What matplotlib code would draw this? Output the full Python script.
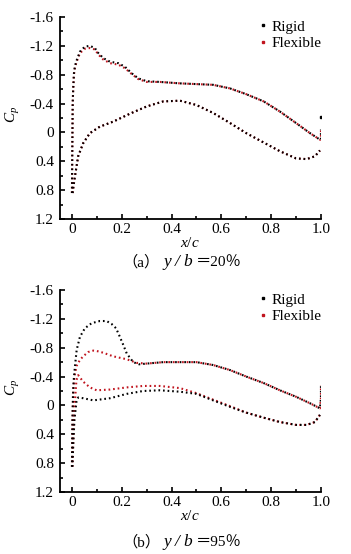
import matplotlib
matplotlib.use('Agg')
import matplotlib.pyplot as plt
from matplotlib.lines import Line2D
from matplotlib.ticker import MultipleLocator, FuncFormatter

plt.rcParams['font.family'] = ['Liberation Serif', 'Noto Sans CJK SC']
plt.rcParams['mathtext.fontset'] = 'custom'
plt.rcParams['mathtext.rm'] = 'Liberation Serif'
plt.rcParams['mathtext.it'] = 'Liberation Serif:italic'
plt.rcParams['axes.unicode_minus'] = False

# ---- (a) y/b = 20% ----
rig_a_up_x = [0.000, 0.001, 0.002, 0.003, 0.005, 0.008, 0.012, 0.019, 0.032, 0.052, 0.072, 0.092,
              0.106, 0.126, 0.153, 0.186, 0.213, 0.240, 0.266, 0.300, 0.353, 0.434, 0.500, 0.567,
              0.635, 0.700, 0.770, 0.835, 0.900, 0.956, 0.996, 1.000, 1.000]
rig_a_up_cp = [0.84, 0.40, 0.00, -0.40, -0.60, -0.82, -0.92, -1.00, -1.12, -1.19, -1.20, -1.17,
               -1.10, -1.03, -0.98, -0.96, -0.91, -0.82, -0.75, -0.71, -0.70, -0.68, -0.67, -0.66,
               -0.61, -0.53, -0.43, -0.29, -0.13, 0.01, 0.10, 0.10, -0.04]
rig_a_lo_x = [0.003, 0.006, 0.012, 0.025, 0.045, 0.072, 0.112, 0.166, 0.233, 0.300, 0.367, 0.434,
              0.500, 0.567, 0.635, 0.700, 0.770, 0.835, 0.900, 0.943, 0.976, 0.996]
rig_a_lo_cp = [0.84, 0.75, 0.61, 0.33, 0.15, 0.01, -0.08, -0.15, -0.26, -0.36, -0.43, -0.44,
               -0.38, -0.27, -0.13, 0.01, 0.14, 0.26, 0.36, 0.37, 0.33, 0.25]
rig_a_te = (1.0, -0.21)

flx_a_up_x = rig_a_up_x
flx_a_up_cp = [0.84, 0.40, 0.00, -0.40, -0.60, -0.80, -0.90, -0.98, -1.10, -1.16, -1.17, -1.15,
               -1.08, -1.01, -0.96, -0.94, -0.89, -0.81, -0.74, -0.70, -0.70, -0.68, -0.67, -0.66,
               -0.61, -0.53, -0.43, -0.29, -0.13, 0.01, 0.10, 0.10, -0.04]
flx_a_lo_x = rig_a_lo_x
flx_a_lo_cp = [0.84, 0.75, 0.61, 0.33, 0.15, 0.01, -0.08, -0.15, -0.26, -0.36, -0.43, -0.44,
               -0.38, -0.27, -0.13, 0.01, 0.14, 0.26, 0.36, 0.37, 0.33, 0.25]

# ---- (b) y/b = 95% ----
rig_b_up_x = [0.000, 0.001, 0.002, 0.004, 0.007, 0.012, 0.019, 0.032, 0.052, 0.079, 0.112, 0.139,
              0.159, 0.177, 0.190, 0.206, 0.220, 0.246, 0.270, 0.300, 0.367, 0.434, 0.500, 0.567,
              0.635, 0.700, 0.770, 0.835, 0.900, 0.956, 0.996, 1.000, 1.000]
rig_b_up_cp = [0.85, 0.50, 0.20, -0.12, -0.35, -0.54, -0.77, -0.95, -1.07, -1.14, -1.17, -1.17,
               -1.13, -1.07, -0.97, -0.84, -0.72, -0.60, -0.57, -0.58, -0.60, -0.60, -0.60, -0.56,
               -0.49, -0.40, -0.31, -0.21, -0.12, -0.03, 0.04, -0.10, -0.28]
rig_b_lo_x = [0.002, 0.005, 0.010, 0.018, 0.025, 0.045, 0.086, 0.153, 0.220, 0.286, 0.353, 0.434,
              0.500, 0.567, 0.635, 0.700, 0.770, 0.835, 0.900, 0.943, 0.976, 0.996]
rig_b_lo_cp = [0.85, 0.55, 0.20, -0.05, -0.11, -0.10, -0.07, -0.10, -0.16, -0.20, -0.21, -0.19,
               -0.16, -0.07, 0.02, 0.10, 0.17, 0.23, 0.27, 0.27, 0.23, 0.13]

flx_b_up_x = [0.000, 0.001, 0.003, 0.006, 0.010, 0.019, 0.032, 0.045, 0.065, 0.086, 0.105, 0.126,
              0.166, 0.220, 0.260, 0.300, 0.367, 0.434, 0.500, 0.567, 0.635, 0.700, 0.770, 0.835,
              0.900, 0.956, 0.996, 1.000, 1.000]
flx_b_up_cp = [0.85, 0.50, 0.10, -0.25, -0.40, -0.55, -0.63, -0.68, -0.74, -0.76, -0.75, -0.73,
               -0.68, -0.64, -0.59, -0.58, -0.60, -0.60, -0.60, -0.56, -0.49, -0.40, -0.31, -0.21,
               -0.12, -0.03, 0.04, -0.10, -0.28]
flx_b_lo_x = [0.002, 0.005, 0.010, 0.018, 0.025, 0.045, 0.072, 0.099, 0.153, 0.220, 0.286, 0.353,
              0.434, 0.500, 0.567, 0.635, 0.700, 0.770, 0.835, 0.900, 0.943, 0.976, 0.996]
flx_b_lo_cp = [0.85, 0.50, 0.05, -0.35, -0.42, -0.33, -0.25, -0.21, -0.22, -0.25, -0.27, -0.27,
               -0.24, -0.17, -0.08, 0.01, 0.10, 0.17, 0.23, 0.27, 0.27, 0.23, 0.13]

x_ticks = [0, 0.2, 0.4, 0.6, 0.8, 1.0]
y_ticks = [-1.6, -1.2, -0.8, -0.4, 0, 0.4, 0.8, 1.2]

RED = '#c0141e'
DOTS = (0, (0.8, 1.4))

W, H = 351, 554
fig = plt.figure(figsize=(W / 100, H / 100), dpi=100)

def fmt(v, pos):
    return '0' if abs(v) < 1e-9 else '%.1f' % v

def panel(rect, rig, flx, te=None):
    ax = fig.add_axes(rect)
    for (x, y) in flx:
        ax.plot(x, y, color=RED, lw=1.5, ls=DOTS, dash_capstyle='butt')
    for (x, y) in rig:
        ax.plot(x, y, color='black', lw=1.5, ls=DOTS, dash_capstyle='butt')
    if te is not None:
        ax.plot([te[0]], [te[1]], 's', color='black', ms=1.6)
    ax.set_xlim(-0.05, 1.0)
    ax.set_ylim(1.2, -1.6)
    ax.set_xticks(x_ticks)
    ax.set_yticks(y_ticks)
    ax.xaxis.set_minor_locator(MultipleLocator(0.1))
    ax.yaxis.set_minor_locator(MultipleLocator(0.2))
    ax.xaxis.set_major_formatter(FuncFormatter(fmt))
    ax.yaxis.set_major_formatter(FuncFormatter(fmt))
    ax.tick_params(which='both', direction='in', labelsize=11, width=1.2)
    ax.tick_params(which='major', length=3.5, pad=4)
    ax.tick_params(which='minor', length=2)
    ax.tick_params(axis='x', pad=3)
    for s in ('top', 'right'):
        ax.spines[s].set_visible(False)
    for s in ('left', 'bottom'):
        ax.spines[s].set_linewidth(1.3)
    ax.set_xlabel(r'$x/c$', fontsize=11, labelpad=0)
    ax.set_ylabel(r'$C_p$', fontsize=11)
    ax.yaxis.set_label_coords(-0.145, 0.52)
    handles = [Line2D([], [], marker='s', ms=1.6, ls='none', color='black'),
               Line2D([], [], marker='s', ms=1.6, ls='none', color=RED)]
    ax.legend(handles, ['Rigid', 'Flexible'], loc='upper left', bbox_to_anchor=(0.765, 0.985),
              frameon=False, fontsize=11, handlelength=0.4, handletextpad=0.4,
              labelspacing=0.2, borderpad=0, borderaxespad=0)
    return ax

ax_w = 261.45 / W
panel([59.5 / W, (H - 219) / H, ax_w, 202 / H],
      [(rig_a_up_x, rig_a_up_cp), (rig_a_lo_x, rig_a_lo_cp)],
      [(flx_a_up_x, flx_a_up_cp), (flx_a_lo_x, flx_a_lo_cp)], te=rig_a_te)
panel([59.5 / W, (H - 492) / H, ax_w, 202 / H],
      [(rig_b_up_x, rig_b_up_cp), (rig_b_lo_x, rig_b_lo_cp)],
      [(flx_b_up_x, flx_b_up_cp), (flx_b_lo_x, flx_b_lo_cp)])

def caption(ypx, tag, pct):
    y = 1 - ypx / H
    fig.text(122 / W, y, '（' + tag + '）', fontsize=11, va='center', ha='left')
    for ch, xp in (('y', 163), ('/', 175), ('b', 183)):
        fig.text(xp / W, y, ch, fontsize=12.5, style='italic', va='center', ha='left')
    fig.text(196 / W, y, '＝' + pct + '％', fontsize=11, va='center', ha='left')

caption(262, 'a', '20')
caption(542, 'b', '95')

fig.savefig('out.png', dpi=100)
